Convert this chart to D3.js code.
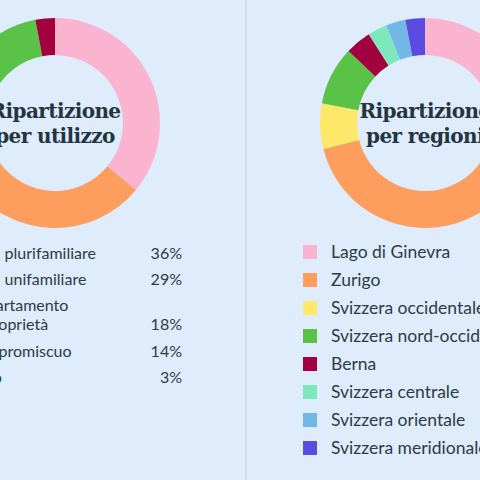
<!DOCTYPE html><html><head><meta charset="utf-8">
<script src="https://cdn.jsdelivr.net/npm/d3@7"></script>
<style>body{margin:0;background:#deecfc;}svg{display:block}</style></head><body>
<svg id="c" width="480" height="480"></svg>
<script>
const useCats=["Casa plurifamiliare","Casa unifamiliare","Appartamento|in proprietà","Uso promiscuo","Altro"];
const useVals=[36,29,18,14,3];
const regCats=["Lago di Ginevra","Zurigo","Svizzera occidentale","Svizzera nord-occidentale","Berna","Svizzera centrale","Svizzera orientale","Svizzera meridionale"];
const regVals=[22,49,7,9,4,3,3,3];
const colors=["#fbb4cf","#fd9e5e","#fde869","#5ac246","#a30040","#7ee8bd","#72b8e6","#5b4be0"];
const svg=d3.select("#c");
svg.append("line").attr("x1",246).attr("x2",246).attr("y1",0).attr("y2",480).attr("stroke","#cfdded").attr("stroke-width",2);
const pie=d3.pie().sort(null).value(d=>d);
const arc=d3.arc().innerRadius(68).outerRadius(105);
function donut(cx,vals,title){
  const g=svg.append("g").attr("transform",`translate(${cx},123)`);
  g.selectAll("path").data(pie(vals)).join("path").attr("d",arc).attr("fill",(d,i)=>colors[i]);
  title.forEach((t,i)=>g.append("text").attr("y",-5+i*25).attr("text-anchor","middle")
    .attr("font-family","DejaVu Serif").attr("font-weight","bold").attr("font-size",20).attr("letter-spacing",-0.6).attr("fill","#253540").text(t));
}
donut(55,useVals,["Ripartizione","per utilizzo"]);
donut(425,regVals,["Ripartizione","per regioni"]);
const tf="Lato,sans-serif";
const ly=[259,285,330,357,383];
useCats.forEach((c,i)=>{
  const parts=c.split("|");
  parts.forEach((p,j)=>svg.append("text").attr("x",-33).attr("y",ly[i]-(parts.length-1-j)*19)
    .attr("font-family",tf).attr("font-size",16).attr("fill","#2e3b45").text(p));
  svg.append("text").attr("x",182).attr("y",ly[i]).attr("text-anchor","end")
    .attr("font-family",tf).attr("font-size",16).attr("fill","#2e3b45").text(useVals[i]+"%");
});
const y=d3.scaleBand().domain(regCats).range([238,462]);
regCats.forEach((c,i)=>{
  const cy=y(c)+y.bandwidth()/2;
  svg.append("rect").attr("x",303).attr("y",cy-7).attr("width",14).attr("height",14).attr("fill",colors[i]);
  svg.append("text").attr("x",331).attr("y",cy+6).attr("font-family",tf).attr("font-size",17.5).attr("fill","#2e3b45").text(c);
});
</script></body></html>
